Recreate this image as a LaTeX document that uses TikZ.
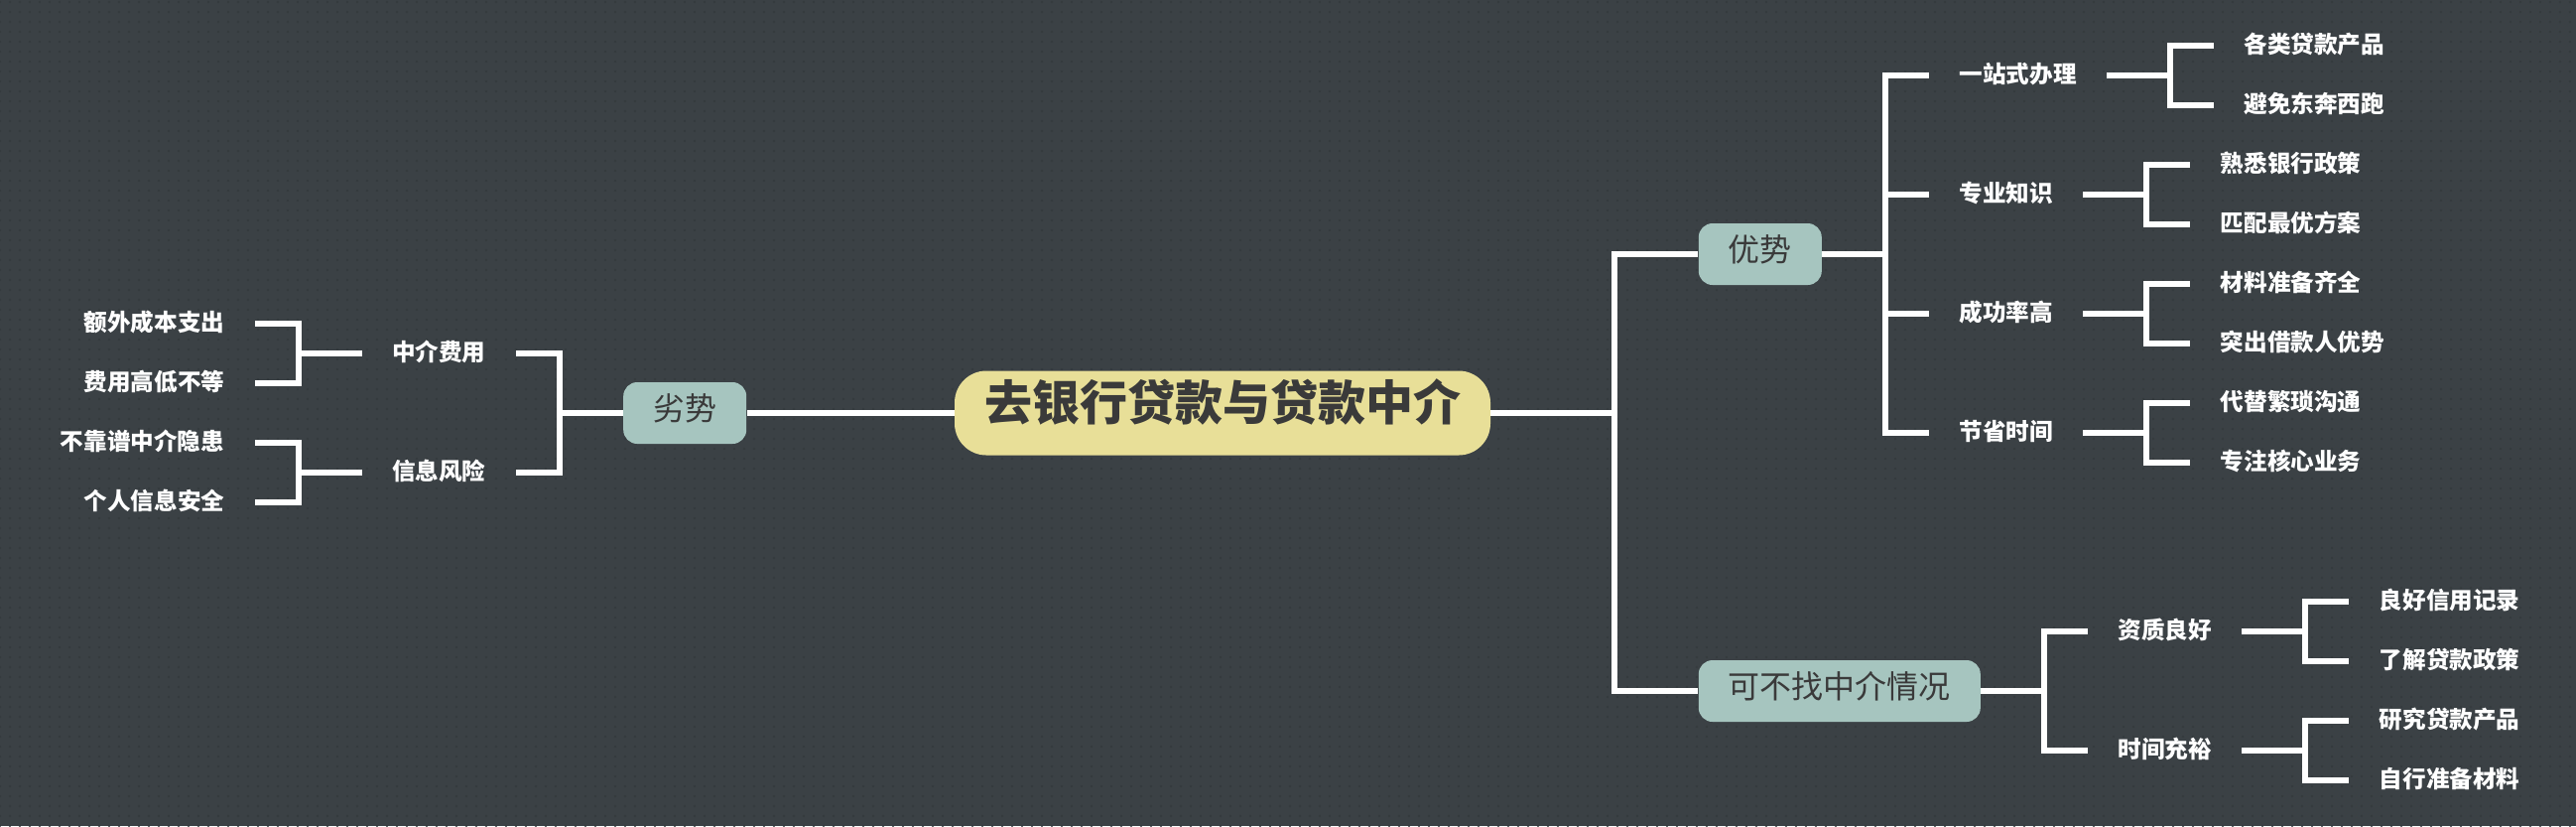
\documentclass[tikz,border=0pt]{standalone}
\usepackage{fontspec}
\usepackage{tikz}
\usetikzlibrary{positioning,patterns.meta}
\newfontfamily\cjk{Noto Sans CJK SC}
\definecolor{bgcol}{HTML}{3B4145}
\definecolor{dotcol}{HTML}{33393C}
\definecolor{topiccol}{HTML}{E8DF98}
\definecolor{branchcol}{HTML}{A6C5BF}
\definecolor{inkcol}{HTML}{3A3A3A}

\begin{document}
\begin{tikzpicture}[x=0.5pt, y=-0.5pt]
\tikzstyle{topic}=[fill=topiccol, text=inkcol, rounded corners=16pt, minimum width=270pt, minimum height=42.5pt, text height=0.86em, text depth=0.12em, font=\cjk\bfseries\fontsize{24pt}{28pt}\selectfont]
\tikzstyle{branch}=[fill=branchcol, text=inkcol, rounded corners=7pt, inner xsep=15pt, minimum height=31pt, text height=0.86em, text depth=0.12em, font=\cjk\fontsize{16pt}{19pt}\selectfont]
\tikzstyle{item}=[text=white, inner xsep=15pt, text height=0.86em, text depth=0.12em, font=\cjk\bfseries\fontsize{11.8pt}{14pt}\selectfont]
\tikzstyle{link}=[draw=white, line width=3pt]

\useasboundingbox (0,0) rectangle (2596,832);
\fill[bgcol] (0,0) rectangle (2596,832);
\fill[pattern={Dots[radius=0.6pt, distance=5pt]}, pattern color=dotcol] (0,0) rectangle (2596,832);

\node[topic] (0) at (1232,416) {去银行贷款与贷款中介};
\node[branch] (1) [right=104.5pt of 0, yshift=80pt] {优势};
\node[branch] (2) [right=104.5pt of 0, yshift=-140pt] {可不找中介情况};
\node[branch] (3) [left=104.5pt of 0] {劣势};

% 优势
\node[item] (11) [right=54pt of 1, yshift=90pt] {一站式办理};
\node[item] (12) [right=54pt of 1, yshift=30pt] {专业知识};
\node[item] (13) [right=54pt of 1, yshift=-30pt] {成功率高};
\node[item] (14) [right=54pt of 1, yshift=-90pt] {节省时间};
\node[item] (111) [right=54pt of 11, yshift=15pt] {各类贷款产品};
\node[item] (112) [right=54pt of 11, yshift=-15pt] {避免东奔西跑};
\node[item] (121) [right=54pt of 12, yshift=15pt] {熟悉银行政策};
\node[item] (122) [right=54pt of 12, yshift=-15pt] {匹配最优方案};
\node[item] (131) [right=54pt of 13, yshift=15pt] {材料准备齐全};
\node[item] (132) [right=54pt of 13, yshift=-15pt] {突出借款人优势};
\node[item] (141) [right=54pt of 14, yshift=15pt] {代替繁琐沟通};
\node[item] (142) [right=54pt of 14, yshift=-15pt] {专注核心业务};

% 可不找中介情况
\node[item] (21) [right=54pt of 2, yshift=30pt] {资质良好};
\node[item] (22) [right=54pt of 2, yshift=-30pt] {时间充裕};
\node[item] (211) [right=54pt of 21, yshift=15pt] {良好信用记录};
\node[item] (212) [right=54pt of 21, yshift=-15pt] {了解贷款政策};
\node[item] (221) [right=54pt of 22, yshift=15pt] {研究贷款产品};
\node[item] (222) [right=54pt of 22, yshift=-15pt] {自行准备材料};

% 劣势
\node[item] (31) [left=54pt of 3, yshift=30pt] {中介费用};
\node[item] (32) [left=54pt of 3, yshift=-30pt] {信息风险};
\node[item] (311) [left=54pt of 31, yshift=15pt] {额外成本支出};
\node[item] (312) [left=54pt of 31, yshift=-15pt] {费用高低不等};
\node[item] (321) [left=54pt of 32, yshift=15pt] {不靠谱中介隐患};
\node[item] (322) [left=54pt of 32, yshift=-15pt] {个人信息安全};

\draw[link] (0.west) -- (3.east);
\draw[link] (0.east) -- ++(125,0) |- (1.west);
\draw[link] (0.east) -- ++(125,0) |- (2.west);

\foreach \a/\b in {1/11,1/12,1/13,1/14,11/111,11/112,12/121,12/122,13/131,13/132,14/141,14/142,2/21,2/22,21/211,21/212,22/221,22/222}
  \draw[link] (\a.east) -- ++(64,0) |- (\b.west);
\foreach \a/\b in {3/31,3/32,31/311,31/312,32/321,32/322}
  \draw[link] (\a.west) -- ++(-64,0) |- (\b.east);

\end{tikzpicture}
\end{document}
